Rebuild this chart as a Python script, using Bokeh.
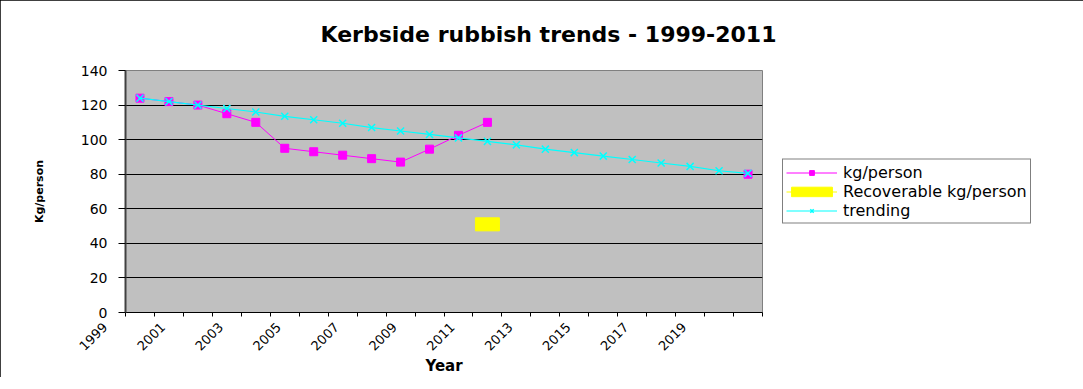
import math
from bokeh.plotting import figure
from bokeh.models import Range1d, FixedTicker, Legend, LegendItem
from bokeh.embed import file_html
from bokeh.resources import INLINE

nan = float("nan")

years = ["1999", "2000", "2001", "2002", "2003", "2004", "2005", "2006", "2007", "2008", "2009",
         "2010", "2011", "2012", "2013", "2014", "2015", "2016", "2017", "2018", "2019", "2020"]
kg_person = [124, 122, 120, 115, 110, 95, 93, 91, 89, 87, 94.5, 102.5, 110,
             nan, nan, nan, nan, nan, nan, nan, nan, 80]
recoverable = [nan, nan, nan, nan, nan, nan, nan, nan, nan, nan, nan, nan, 51,
               nan, nan, nan, nan, nan, nan, nan, nan, nan]
trending = [124, 122, 120, 118, 116, 113.5, 111.5, 109.5, 107, 105, 103, 101, 99,
            97, 94.5, 92.5, 90.5, 88.5, 86.5, 84.5, 82, 80.5]
y_ticks = [0, 20, 40, 60, 80, 100, 120, 140]

title_text = "Kerbside rubbish trends - 1999-2011"
FONT = "DejaVu Sans"
PAD = "\u00a0" * 7   # shifts the rotated year labels down-left, as in the original

n = len(years)
xs = [i + 0.5 for i in range(n)]

p = figure(frame_width=637, frame_height=242, x_range=Range1d(0, n), y_range=Range1d(0, 140),
           output_backend="svg", toolbar_location=None,
           min_border_left=125, min_border_right=305, min_border_top=70, min_border_bottom=61)
p.styles = {"outline": "1px solid black", "outline-offset": "-1px"}
p.background_fill_color = "#C0C0C0"
p.border_fill_color = "white"
p.outline_line_color = "#808080"
p.outline_line_width = 1

# title
p.title.text = title_text
p.title.align = "left"
p.title.offset = 195
p.title.vertical_align = "top"
p.title.standoff = 43
p.title.text_font = FONT
p.title.text_font_style = "bold"
p.title.text_font_size = "22px"
p.title.text_color = "black"

# grid
p.xgrid.visible = False
p.ygrid.grid_line_color = "black"
p.ygrid.grid_line_width = 1
p.ygrid.ticker = FixedTicker(ticks=y_ticks)

# y axis
ya = p.yaxis[0]
ya.ticker = FixedTicker(ticks=y_ticks)
ya.axis_line_color = "#404040"
ya.axis_line_width = 2
ya.major_tick_out = 7
ya.major_tick_in = 0
ya.minor_tick_out = 0
ya.major_tick_line_color = "black"
ya.major_label_text_font = FONT
ya.major_label_text_font_size = "14px"
ya.major_label_text_color = "black"
ya.major_label_standoff = 11
ya.axis_label = "Kg/person"
ya.axis_label_text_font = FONT
ya.axis_label_text_font_style = "bold"
ya.axis_label_text_font_size = "11px"
ya.axis_label_text_color = "black"
ya.axis_label_standoff = 32

# x axis
xa = p.xaxis[0]
xa.ticker = FixedTicker(ticks=list(range(n + 1)))
overrides = {}
for k in range(n + 1):
    overrides[k] = (years[k] + PAD) if (k < n and k % 2 == 0) else ""
xa.major_label_overrides = overrides
xa.major_label_orientation = math.pi / 4
xa.axis_line_color = "black"
xa.major_tick_out = 4
xa.major_tick_in = 0
xa.minor_tick_out = 0
xa.major_tick_line_color = "black"
xa.major_label_text_font = FONT
xa.major_label_text_font_size = "13px"
xa.major_label_text_color = "black"
xa.major_label_standoff = -12
xa.axis_label = "Year"
xa.axis_label_text_font = FONT
xa.axis_label_text_font_style = "bold"
xa.axis_label_text_font_size = "15px"
xa.axis_label_text_color = "black"
xa.axis_label_standoff = -5

# series
l1 = p.line(xs, kg_person, line_color="#FF00FF", line_width=1)
s1 = p.scatter(xs, kg_person, marker="square", size=8, fill_color="#FF00FF", line_color="#FF00FF")

l2 = p.line(xs, recoverable, line_color="#FFFF00", line_width=1)
r2 = p.rect(xs, recoverable, width=24, height=13, width_units="screen", height_units="screen",
            fill_color="#FFFF00", line_color="#FFFF00")

l3 = p.line(xs, trending, line_color="#00FFFF", line_width=1.2)
s3 = p.scatter(xs, trending, marker="x", size=10, line_color="#00FFFF", line_width=1.5)

legend = Legend(items=[
    LegendItem(label="kg/person", renderers=[l1, s1]),
    LegendItem(label="Recoverable kg/person", renderers=[l2, r2]),
    LegendItem(label="trending", renderers=[l3, s3]),
], location="center_left")
legend.border_line_color = "black"
legend.border_line_width = 1
legend.background_fill_color = "white"
legend.background_fill_alpha = 1
legend.label_text_font = FONT
legend.label_text_font_size = "16px"
legend.label_text_color = "black"
legend.glyph_width = 51
legend.glyph_height = 12
legend.label_height = 18
legend.label_standoff = 6
legend.spacing = 0
legend.padding = 3
legend.margin = 20
p.add_layout(legend, "right")

open("out.html", "w").write(file_html(p, INLINE))
